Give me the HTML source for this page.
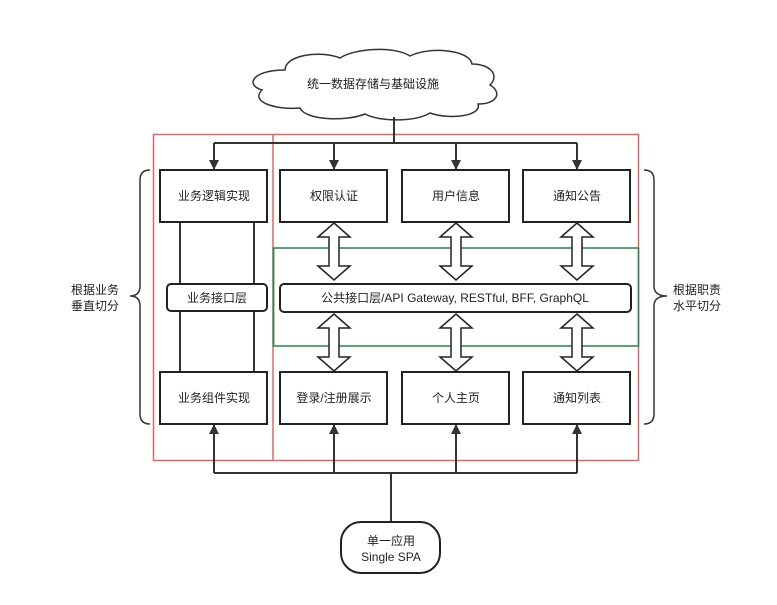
<!DOCTYPE html>
<html><head><meta charset="utf-8"><style>
html,body{margin:0;padding:0;background:#fff;}
svg{display:block}
text{font-family:"Liberation Sans","Noto Sans CJK SC",sans-serif;font-size:12px;fill:#222}
</style></head><body>
<svg width="777" height="605" viewBox="0 0 777 605" xmlns="http://www.w3.org/2000/svg">
<defs>
<marker id="ah" markerWidth="10" markerHeight="10" refX="9" refY="5" orient="auto" markerUnits="userSpaceOnUse">
<path d="M0,0 L10,5 L0,10 Z" fill="#333"/>
</marker>
</defs>
<!-- cloud -->
<path d="M285,70 C285,55 320,50 340,58 C355,48 395,46 410,56 C430,46 470,50 472,64 C490,64 500,75 490,85 C502,92 498,104 478,104 C482,116 450,120 430,113 C415,122 380,122 365,114 C345,122 305,120 300,108 C275,110 250,102 262,90 C245,85 252,70 285,70 Z" fill="#fff" stroke="#333" stroke-width="1.5"/>
<text x="373" y="88" text-anchor="middle">统一数据存储与基础设施</text>

<!-- red / green frames -->
<rect x="153.5" y="134.5" width="485" height="326" fill="none" stroke="#e06666" stroke-width="1.5"/>
<line x1="273" y1="134" x2="273" y2="460" stroke="#e06666" stroke-width="1.5"/>
<rect x="273.5" y="248" width="365" height="98" fill="none" stroke="#23864a" stroke-width="1.5"/>
<line x1="273.5" y1="248" x2="273.5" y2="346" stroke="#23864a" stroke-width="1.5"/>

<!-- top connector -->
<g stroke="#333" stroke-width="2" fill="none">
<line x1="394" y1="117" x2="394" y2="143"/>
<line x1="214" y1="143" x2="577" y2="143"/>
<line x1="214" y1="143" x2="214" y2="169" marker-end="url(#ah)"/>
<line x1="334" y1="143" x2="334" y2="169" marker-end="url(#ah)"/>
<line x1="456" y1="143" x2="456" y2="169" marker-end="url(#ah)"/>
<line x1="577" y1="143" x2="577" y2="169" marker-end="url(#ah)"/>
<!-- bottom connector -->
<line x1="391" y1="522" x2="391" y2="473"/>
<line x1="214" y1="473" x2="577" y2="473"/>
<line x1="214" y1="473" x2="214" y2="425" marker-end="url(#ah)"/>
<line x1="334" y1="473" x2="334" y2="425" marker-end="url(#ah)"/>
<line x1="456" y1="473" x2="456" y2="425" marker-end="url(#ah)"/>
<line x1="577" y1="473" x2="577" y2="425" marker-end="url(#ah)"/>
<!-- left verticals -->
<line x1="180" y1="222" x2="180" y2="372"/>
<line x1="254" y1="222" x2="254" y2="372"/>
</g>

<!-- boxes -->
<g fill="#fff" stroke="#222" stroke-width="2">
<rect x="160" y="170" width="107" height="52"/>
<rect x="280" y="170" width="107" height="52"/>
<rect x="402" y="170" width="107" height="52"/>
<rect x="523" y="170" width="107" height="52"/>
<rect x="160" y="372" width="107" height="52"/>
<rect x="280" y="372" width="107" height="52"/>
<rect x="402" y="372" width="107" height="52"/>
<rect x="523" y="372" width="107" height="52"/>
<rect x="167" y="284" width="100" height="27" rx="4"/>
<rect x="280" y="284" width="351" height="28" rx="4"/>
<rect x="341" y="522" width="99" height="51" rx="20"/>
</g>
<text x="214" y="200" text-anchor="middle">业务逻辑实现</text>
<text x="334" y="200" text-anchor="middle">权限认证</text>
<text x="456" y="200" text-anchor="middle">用户信息</text>
<text x="577" y="200" text-anchor="middle">通知公告</text>
<text x="214" y="402" text-anchor="middle">业务组件实现</text>
<text x="334" y="402" text-anchor="middle">登录/注册展示</text>
<text x="456" y="402" text-anchor="middle">个人主页</text>
<text x="577" y="402" text-anchor="middle">通知列表</text>
<text x="217" y="302" text-anchor="middle">业务接口层</text>
<text x="455" y="302" text-anchor="middle">公共接口层/API Gateway, RESTful, BFF, GraphQL</text>
<text x="391" y="545" text-anchor="middle">单一应用</text>
<text x="391" y="561" text-anchor="middle">Single SPA</text>

<!-- double arrows -->
<g fill="#fff" stroke="#222" stroke-width="1.5">
<path id="da" d="M0,0 L16,14 L5,14 L5,43 L16,43 L0,57 L-16,43 L-5,43 L-5,14 L-16,14 Z" transform="translate(334,223)"/>
<path d="M0,0 L16,14 L5,14 L5,43 L16,43 L0,57 L-16,43 L-5,43 L-5,14 L-16,14 Z" transform="translate(456,223)"/>
<path d="M0,0 L16,14 L5,14 L5,43 L16,43 L0,57 L-16,43 L-5,43 L-5,14 L-16,14 Z" transform="translate(577,223)"/>
<path d="M0,0 L16,14 L5,14 L5,43 L16,43 L0,57 L-16,43 L-5,43 L-5,14 L-16,14 Z" transform="translate(334,314)"/>
<path d="M0,0 L16,14 L5,14 L5,43 L16,43 L0,57 L-16,43 L-5,43 L-5,14 L-16,14 Z" transform="translate(456,314)"/>
<path d="M0,0 L16,14 L5,14 L5,43 L16,43 L0,57 L-16,43 L-5,43 L-5,14 L-16,14 Z" transform="translate(577,314)"/>
</g>

<!-- braces -->
<g stroke="#333" stroke-width="1.5" fill="none">
<path d="M150,170 Q140,170 140,180 L140,286 Q140,296 130,296 Q140,296 140,306 L140,414 Q140,424 150,424"/>
<path d="M644,170 Q654,170 654,180 L654,286 Q654,296 667,296 Q654,296 654,306 L654,414 Q654,424 644,424"/>
</g>
<text x="95" y="294" text-anchor="middle">根据业务</text>
<text x="95" y="310" text-anchor="middle">垂直切分</text>
<text x="697" y="294" text-anchor="middle">根据职责</text>
<text x="697" y="310" text-anchor="middle">水平切分</text>
</svg>
</body></html>
